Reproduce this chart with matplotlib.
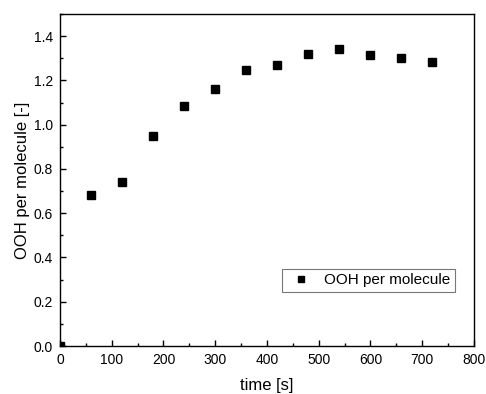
import matplotlib
matplotlib.use('Agg')
import matplotlib.pyplot as plt
from matplotlib.ticker import MultipleLocator, AutoMinorLocator

plt.rcParams['font.family'] = ['Liberation Sans', 'DejaVu Sans']

# OOH per molecule over time
time_s = [0, 60, 120, 180, 240, 300, 360, 420, 480, 540, 600, 660, 720]
ooh = [0.0, 0.68, 0.74, 0.95, 1.084, 1.162, 1.247, 1.268, 1.319, 1.344, 1.316, 1.30, 1.284]

fig = plt.figure(figsize=(4.86, 3.94), dpi=100)
ax = fig.add_axes([0.1235, 0.1218, 0.8515, 0.8427])

ax.plot(time_s, ooh, linestyle='none', marker='s', markersize=5.2,
        color='black', label='OOH per molecule')

ax.set_xlim(0, 800)
ax.set_ylim(0, 1.5)
ax.xaxis.set_major_locator(MultipleLocator(100))
ax.set_yticks([0, 0.2, 0.4, 0.6, 0.8, 1.0, 1.2, 1.4])
ax.xaxis.set_minor_locator(AutoMinorLocator(2))
ax.yaxis.set_minor_locator(MultipleLocator(0.1))
ax.yaxis.set_major_formatter(plt.FuncFormatter(lambda v, _: f'{v:.1f}'))

ax.tick_params(which='both', direction='in', labelsize=10, width=1)
ax.tick_params(which='major', length=4, pad=5)
ax.tick_params(which='minor', length=2.5)
for s in ax.spines.values():
    s.set_linewidth(1)

ax.set_xlabel('time [s]', fontsize=12, labelpad=8)
ax.set_ylabel('OOH per molecule [-]', fontsize=12, labelpad=3)

leg = ax.legend(loc='lower right', bbox_to_anchor=(0.954, 0.163), fontsize=11,
                frameon=True, fancybox=False, edgecolor='#555555',
                handlelength=1.83, handletextpad=0.6, borderpad=0.3,
                borderaxespad=0, markerscale=0.85)
leg.get_frame().set_linewidth(0.8)

fig.savefig('out.png', dpi=100)
